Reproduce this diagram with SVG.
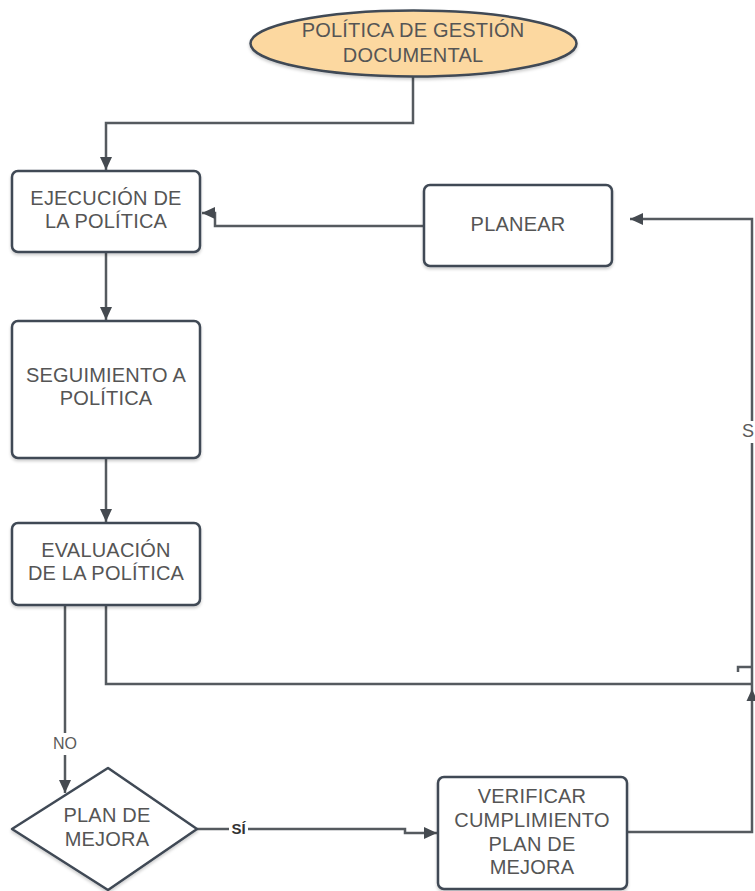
<svg xmlns="http://www.w3.org/2000/svg" width="755" height="891" viewBox="0 0 755 891">
<style>
.node{fill:#ffffff;stroke:#3f4955;stroke-width:2.5;filter:url(#sh)}
.t{font-family:"Liberation Sans",Arial,sans-serif;font-size:20px;fill:#555555;text-anchor:middle;letter-spacing:0.2px}
.c{fill:none;stroke:#555a5f;stroke-width:2.5}
.lbl{font-family:"Liberation Sans",Arial,sans-serif;font-size:16px;fill:#5a5a5a;text-anchor:middle}
</style>
<defs>
<filter id="sh" x="-10%" y="-10%" width="130%" height="130%">
<feDropShadow dx="0" dy="2" stdDeviation="1.5" flood-color="#000" flood-opacity="0.2"/>
</filter>
<marker id="ah" markerUnits="userSpaceOnUse" markerWidth="14" markerHeight="12" refX="13" refY="6" orient="auto">
<path d="M0,0 L13,6 L0,12 z" fill="#454a50"/>
</marker>
</defs>
<rect width="755" height="891" fill="#ffffff"/>
<g id="connectors">
<path class="c" d="M413,77 V123 H106 V170" marker-end="url(#ah)"/>
<path class="c" d="M424,226 H215 V213 H202" marker-end="url(#ah)"/>
<path class="c" d="M106,252 V320" marker-end="url(#ah)"/>
<path class="c" d="M106,458 V522" marker-end="url(#ah)"/>
<path class="c" d="M65,605 V733"/>
<path class="c" d="M65,755 V793" marker-end="url(#ah)"/>
<text class="lbl" x="65" y="749">NO</text>
<path class="c" d="M106,605 V684 H752"/>
<path class="c" d="M197,829 H229"/>
<path class="c" d="M248,829 H405 V833 H437" marker-end="url(#ah)"/>
<text x="238.5" y="834" font-family="'Liberation Sans',Arial,sans-serif" font-size="15" font-weight="bold" fill="#333" text-anchor="middle">SÍ</text>
<path class="c" d="M627,832 H752 V443"/>
<path class="c" d="M752,421 V219 H630" marker-end="url(#ah)"/>
<text class="lbl" x="742" y="437" font-size="18" style="text-anchor:start;font-size:18px">SÍ</text>
<polygon points="752,689 746.5,701 757.5,701" fill="#454a50"/>
<path class="c" d="M752,667 H738 V672"/>
</g>
<g id="n-politica">
<ellipse cx="413.5" cy="43.5" rx="163" ry="33" fill="#fcd8a0" stroke="#3f4955" stroke-width="2.5" filter="url(#sh)"/>
<text class="t" x="413" y="37">POLÍTICA DE GESTIÓN</text>
<text class="t" x="413" y="62">DOCUMENTAL</text>
</g>
<g id="n-ejecucion">
<rect class="node" x="12" y="171" width="188" height="81" rx="6"/>
<text class="t" x="106" y="205">EJECUCIÓN DE</text>
<text class="t" x="106" y="228">LA POLÍTICA</text>
</g>
<g id="n-planear">
<rect class="node" x="424" y="185" width="188" height="81" rx="6"/>
<text class="t" x="518" y="231">PLANEAR</text>
</g>
<g id="n-seguimiento">
<rect class="node" x="12" y="321" width="188" height="137" rx="6"/>
<text class="t" x="106" y="382">SEGUIMIENTO A</text>
<text class="t" x="106" y="405">POLÍTICA</text>
</g>
<g id="n-evaluacion">
<rect class="node" x="12" y="523" width="188" height="82" rx="6"/>
<text class="t" x="106" y="557">EVALUACIÓN</text>
<text class="t" x="106" y="580">DE LA POLÍTICA</text>
</g>
<g id="n-plan">
<polygon class="node" points="108,768 197,829 108,890 12,829" stroke-linejoin="round"/>
<text class="t" x="107" y="822">PLAN DE</text>
<text class="t" x="107" y="846">MEJORA</text>
</g>
<g id="n-verificar">
<rect class="node" x="438" y="777" width="189" height="112" rx="6"/>
<text class="t" x="532" y="803">VERIFICAR</text>
<text class="t" x="532" y="827">CUMPLIMIENTO</text>
<text class="t" x="532" y="851">PLAN DE</text>
<text class="t" x="532" y="874">MEJORA</text>
</g>
</svg>
